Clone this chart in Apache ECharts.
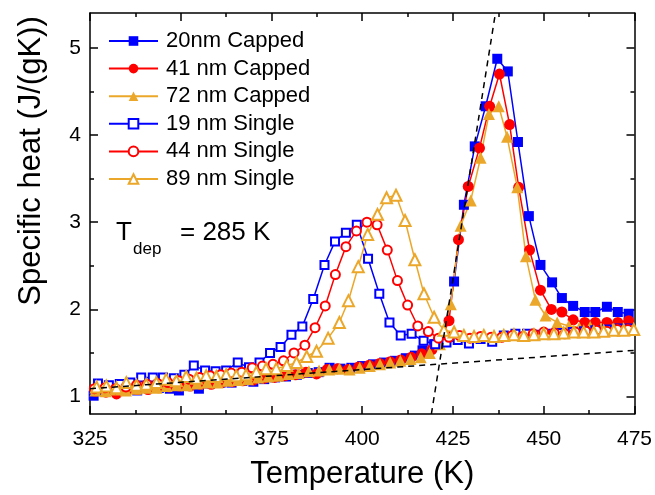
<!DOCTYPE html>
<html><head><meta charset="utf-8">
<script src="https://cdn.jsdelivr.net/npm/echarts@6/dist/echarts.min.js"></script>
<style>html,body{margin:0;padding:0;background:#fff}#c{width:655px;height:495px}</style>
</head><body><div id="c"></div>
<script>
// ---- data ----
const cap20T = [326.0,329.0,332.0,335.0,338.0,341.0,344.0,347.0,349.5,352.5,355.0,358.0,361.0,364.0,367.0,370.0,373.0,376.0,379.0,382.0,385.0,388.0,391.0,394.0,397.0,400.0,403.0,406.0,409.0,412.0,414.5,416.6,419.8,422.5,425.3,428.0,431.0,434.0,437.2,440.1,442.9,445.9,449.1,452.3,455.0,458.1,461.3,464.2,467.4,470.4,473.4];
const cap20Cp = [1.01,1.06,1.08,1.09,1.07,1.10,1.10,1.09,1.07,1.13,1.09,1.15,1.16,1.16,1.18,1.17,1.20,1.22,1.23,1.25,1.27,1.28,1.33,1.32,1.33,1.35,1.37,1.39,1.41,1.44,1.47,1.53,1.60,1.66,2.32,3.20,3.87,4.33,4.875,4.73,3.92,3.07,2.51,2.31,2.13,2.04,1.97,1.97,2.03,1.97,1.95];

const cap41T = [326.5,329.4,332.3,335.2,338.1,341.0,343.9,346.8,349.7,352.6,355.5,358.4,361.3,364.2,367.1,370.0,372.9,375.8,378.7,381.6,384.5,387.4,390.3,393.2,396.1,399.0,401.9,404.8,407.7,410.6,413.5,416.4,419.2,421.4,423.9,426.5,429.2,432.3,435.1,437.8,440.6,443.1,446.1,449.1,452.1,455.0,458.1,461.3,464.2,467.4,470.4,473.4];
const cap41Cp = [1.06,1.05,1.03,1.07,1.08,1.08,1.10,1.11,1.12,1.12,1.14,1.14,1.16,1.17,1.18,1.19,1.21,1.22,1.24,1.25,1.28,1.26,1.31,1.32,1.31,1.34,1.36,1.38,1.40,1.42,1.45,1.49,1.54,1.62,1.87,2.80,3.41,3.85,4.33,4.70,4.12,3.40,2.68,2.22,2.00,1.97,1.88,1.85,1.85,1.85,1.85,1.87];

const cap72T = [326.5,329.3,332.1,334.9,337.7,340.5,343.3,346.1,348.9,351.7,354.5,357.3,360.1,362.9,365.7,368.5,371.3,374.1,376.9,379.7,382.5,385.3,388.1,390.9,393.7,396.5,399.3,402.1,404.9,407.7,410.5,413.3,416.1,418.6,421.4,424.4,427.1,429.9,432.6,434.9,437.6,439.9,442.7,445.1,447.7,450.5,453.7,456.9,459.8,462.8,465.8,468.8,471.8,474.8];
const cap72Cp = [1.07,1.06,1.08,1.07,1.09,1.10,1.10,1.12,1.13,1.13,1.15,1.16,1.16,1.18,1.19,1.20,1.22,1.23,1.24,1.26,1.27,1.29,1.30,1.31,1.32,1.31,1.33,1.35,1.37,1.39,1.41,1.43,1.45,1.50,1.60,2.06,2.96,3.25,3.74,4.24,4.33,3.98,3.40,2.61,2.11,1.93,1.85,1.81,1.79,1.80,1.78,1.77,1.78,1.77];

const sng19T = [327.2,330.2,333.2,336.1,339.1,342.3,345.1,348.1,351.0,353.6,356.7,359.6,362.5,365.7,368.8,371.7,374.6,377.5,380.5,383.5,386.5,389.6,392.5,395.5,398.5,401.6,404.7,407.5,410.6,413.6,416.9,420.1,423.2,426.3,429.4,432.6,435.8,439.0,442.2,445.4,448.5,451.6,454.8,458.0,461.1,464.2,467.4,470.5,473.6];
const sng19Cp = [1.15,1.13,1.145,1.16,1.22,1.22,1.22,1.21,1.25,1.355,1.30,1.29,1.30,1.39,1.335,1.39,1.50,1.57,1.71,1.805,2.12,2.51,2.78,2.88,2.97,2.58,2.18,1.85,1.70,1.72,1.64,1.60,1.62,1.65,1.61,1.66,1.63,1.70,1.72,1.72,1.71,1.72,1.73,1.74,1.75,1.76,1.77,1.78,1.78];

const sng44T = [326.2,329.1,332.0,334.9,337.8,340.7,343.6,346.5,349.4,352.3,355.2,358.1,361.0,363.9,366.8,369.7,372.5,375.4,378.3,381.2,384.2,387.0,389.8,392.6,395.5,398.4,401.3,404.1,406.9,409.7,412.5,415.3,418.2,421.0,423.9,426.8,429.7,432.6,435.5,438.4,441.3,444.2,447.1,450.0,452.9,455.8,458.7,461.6,464.5,467.4,470.3,473.2];
const sng44Cp = [1.09,1.10,1.09,1.11,1.13,1.14,1.15,1.16,1.18,1.20,1.22,1.24,1.25,1.27,1.28,1.33,1.35,1.37,1.41,1.50,1.59,1.79,2.04,2.40,2.72,2.90,3.00,2.97,2.68,2.33,2.05,1.81,1.745,1.67,1.68,1.70,1.67,1.69,1.68,1.68,1.70,1.69,1.72,1.74,1.73,1.72,1.74,1.75,1.76,1.75,1.77,1.77];

const sng89T = [326.8,329.5,332.3,335.0,337.8,340.5,343.3,346.0,348.8,351.5,354.3,357.0,359.8,362.5,365.3,368.0,370.8,373.5,376.3,379.2,381.9,384.7,387.4,390.6,393.7,396.2,398.9,401.5,404.2,406.7,409.3,411.8,414.5,417.0,419.8,422.5,425.3,428.0,430.8,433.5,436.3,439.0,441.8,444.5,447.3,450.0,452.8,455.5,458.3,461.0,463.8,466.5,469.3,472.0,474.8];
const sng89Cp = [1.11,1.12,1.10,1.16,1.13,1.14,1.16,1.20,1.18,1.23,1.21,1.24,1.23,1.25,1.24,1.25,1.28,1.32,1.32,1.355,1.39,1.46,1.52,1.67,1.85,2.10,2.49,2.86,3.09,3.28,3.31,3.02,2.57,2.18,1.91,1.76,1.74,1.70,1.69,1.70,1.69,1.70,1.71,1.70,1.71,1.72,1.72,1.73,1.74,1.74,1.74,1.75,1.76,1.76,1.77];

// dashed tangent lines (end points)
const baseFitT = [325, 475];
const baseFitCp = [1.09, 1.53];
const riseFitT = [419.05, 436.7];
const riseFitCp = [0.8, 5.4];

// axis ticks
const xMin = 325, xMax = 475, xStep = 25;
const yMin = 0.8, yMax = 5.4;
const yMajor = [1, 2, 3, 4, 5];
const yMinor = [1.5, 2.5, 3.5, 4.5];

const names = ['20nm Capped','41 nm Capped','72 nm Capped','19 nm Single','44 nm Single','89 nm Single'];
const xTitle = 'Temperature (K)';
const yTitle = 'Specific heat (J/(gK))';

// ---- chart ----
const BLUE = '#0000FF', RED = '#FF0000', ORANGE = '#EBA72A';
const FONT = '"Liberation Sans", Arial, sans-serif';
const zip = (a, b) => a.map((v, i) => [v, b[i]]);
const chart = echarts.init(document.getElementById('c'), null, {renderer: 'canvas'});

function mk(name, T, Cp, color, symbol, size, hollow) {
  return {
    name, type: 'line', data: zip(T, Cp), symbol, symbolSize: size,
    showAllSymbol: true,
    lineStyle: {color, width: 1.5},
    itemStyle: hollow ? {color, borderColor: color, borderWidth: 1.6} : {color, borderWidth: 0},
    emphasis: {disabled: true}, animation: false
  };
}
function dashed(T, Cp) {
  return {
    type: 'line', data: zip(T, Cp), symbol: 'none', z: 5,
    lineStyle: {color: '#000', width: 1.5, type: [6, 5]},
    emphasis: {disabled: true}, animation: false, silent: true, clip: true
  };
}
const axLine = {show: true, lineStyle: {color: '#000', width: 1.5}};
const tickSt = {color: '#000', width: 1.5};

const option = {
  backgroundColor: '#fff',
  animation: false,
  grid: {left: 90, right: 19, top: 13, bottom: 81, containLabel: false},
  legend: {
    data: names, orient: 'vertical', left: 103, top: 25,
    itemWidth: 49, itemHeight: 12, itemGap: 5.6, selectedMode: false,
    textStyle: {fontSize: 22, color: '#000', fontFamily: FONT, padding: [0, 0, 0, 3]}
  },
  xAxis: [
    {type: 'value', min: xMin, max: xMax, interval: xStep, position: 'bottom',
     axisLine: axLine, axisTick: {inside: true, length: 8, lineStyle: tickSt},
     minorTick: {show: true, splitNumber: 2, length: 4, lineStyle: tickSt},
     splitLine: {show: false},
     axisLabel: {fontSize: 21, color: '#000', margin: 15, fontFamily: FONT},
     name: xTitle, nameLocation: 'middle', nameGap: 45,
     nameTextStyle: {fontSize: 31, color: '#000', fontFamily: FONT}},
    {type: 'value', min: xMin, max: xMax, interval: xStep, position: 'top',
     axisLine: axLine, axisTick: {inside: true, length: 8, lineStyle: tickSt},
     minorTick: {show: true, splitNumber: 2, length: 4, lineStyle: tickSt},
     splitLine: {show: false}, axisLabel: {show: false}}
  ],
  yAxis: [
    {type: 'value', min: yMin, max: yMax, position: 'left',
     axisLine: axLine,
     axisTick: {inside: true, length: 8, lineStyle: tickSt, customValues: yMajor},
     axisLabel: {customValues: yMajor, fontSize: 21, color: '#000', margin: 9, fontFamily: FONT},
     splitLine: {show: false}},
    {type: 'value', min: yMin, max: yMax, position: 'left',
     axisLine: {show: false},
     axisTick: {inside: true, length: 4, lineStyle: tickSt, customValues: yMinor},
     axisLabel: {show: false}, splitLine: {show: false}},
    {type: 'value', min: yMin, max: yMax, position: 'right',
     axisLine: axLine,
     axisTick: {inside: true, length: 8, lineStyle: tickSt, customValues: yMajor},
     axisLabel: {show: false}, splitLine: {show: false}},
    {type: 'value', min: yMin, max: yMax, position: 'right',
     axisLine: {show: false},
     axisTick: {inside: true, length: 4, lineStyle: tickSt, customValues: yMinor},
     axisLabel: {show: false}, splitLine: {show: false}}
  ],
  graphic: [
    {type: 'text', x: 31, y: 161, rotation: Math.PI / 2,
     style: {text: yTitle, fontSize: 31, fill: '#000', fontFamily: FONT, align: 'center', verticalAlign: 'middle'}},
    {type: 'text', left: 116, top: 220, style: {text: 'T', fontSize: 26, fill: '#000', fontFamily: FONT}},
    {type: 'text', left: 133, top: 241, style: {text: 'dep', fontSize: 17, fill: '#000', fontFamily: FONT}},
    {type: 'text', left: 180, top: 220, style: {text: '= 285 K', fontSize: 26, fill: '#000', fontFamily: FONT}}
  ],
  series: [
    mk(names[0], cap20T, cap20Cp, BLUE, 'rect', 10, false),
    mk(names[1], cap41T, cap41Cp, RED, 'circle', 11, false),
    mk(names[2], cap72T, cap72Cp, ORANGE, 'triangle', 12, false),
    mk(names[3], sng19T, sng19Cp, BLUE, 'emptyRect', 8, true),
    mk(names[4], sng44T, sng44Cp, RED, 'emptyCircle', 9, true),
    mk(names[5], sng89T, sng89Cp, ORANGE, 'emptyTriangle', 11, true),
    dashed(baseFitT, baseFitCp),
    dashed(riseFitT, riseFitCp)
  ]
};
chart.setOption(option);
</script>
</body></html>
